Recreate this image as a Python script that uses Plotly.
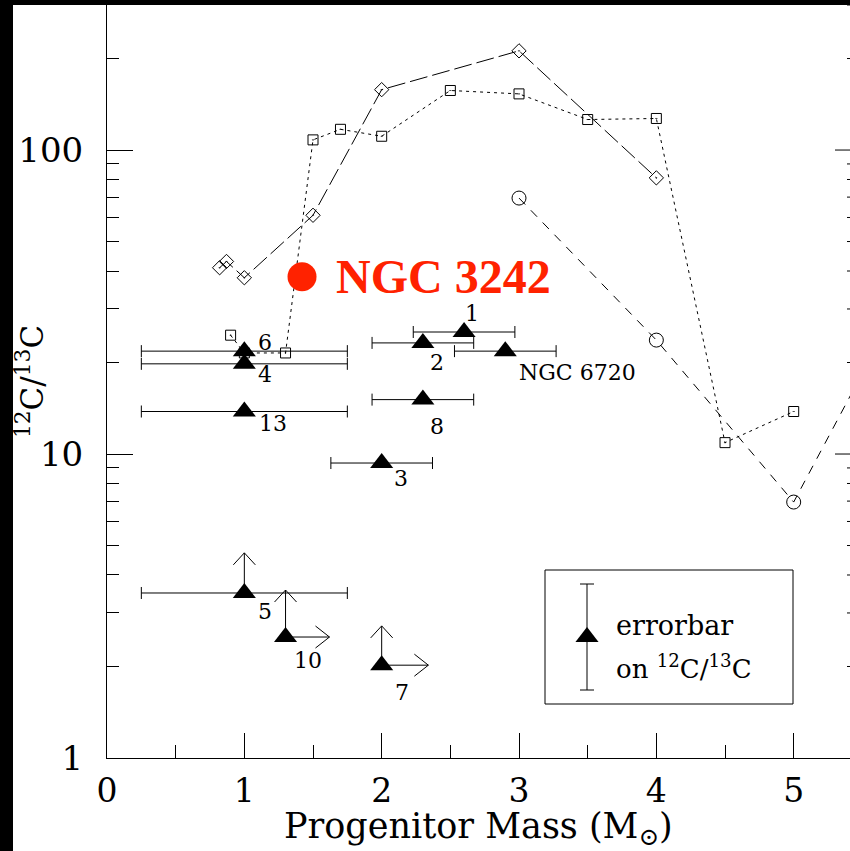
import math
import plotly.graph_objects as go

# ---------------- data ----------------
diamond_mass = [0.82, 0.87, 1.0, 1.5, 2.0, 3.0, 4.0]
diamond_ratio = [41, 43, 38, 61, 158, 212, 81]

square_mass = [0.9, 1.0, 1.3, 1.5, 1.7, 2.0, 2.5, 3.0, 3.5, 4.0, 4.5, 5.0]
square_ratio = [24.6, 21.5, 21.5, 108, 117, 111, 157, 153, 126, 127, 10.9, 13.8]

circle_mass = [3.0, 4.0, 5.0, 6.0]
circle_ratio = [69.5, 23.7, 6.95, 49]

obj_labels = ["6", "4", "13", "1", "2", "NGC 6720", "8", "3", "5", "10", "7"]
obj_mass = [1.0, 1.0, 1.0, 2.6, 2.3, 2.9, 2.3, 2.0, 1.0, 1.3, 2.0]
obj_ratio = [21.8, 19.8, 13.8, 25.2, 23.2, 21.8, 15.1, 9.34, 3.49, 2.5, 2.02]
obj_mass_err = [0.75, 0.75, 0.75, 0.37, 0.37, 0.37, 0.37, 0.37, 0.75, 0, 0]

# lower limits drawn as arrows
ratio_limit_labels = ["5", "10", "7"]
ratio_limit_to = [4.73, 3.57, 2.72]
mass_limit_labels = ["10", "7"]
mass_limit_to = [1.62, 2.34]

ngc3242_mass = [1.42]
ngc3242_ratio = [38.3]

x_tickvals = [0, 1, 2, 3, 4, 5]
y_tickvals = [1, 10, 100]
y_ticktext = ["1", "10", "100"]

# ---------------- layout constants ----------------
W, H = 850, 851
ML, MR, MT, MB = 107, 0, 5, 93
PW, PH = W - ML - MR, H - MT - MB
XMAX = 5.41
YLOG = math.log10(300)
PX_X = PW / XMAX
PX_DEC = PH / YLOG
SERIF = "DejaVu Serif"
BLACK = "black"
RED = "#ff2200"


def px_to_paper_x(px):
    return (px - ML) / PW


def px_to_paper_y(py):
    return 1 - (py - MT) / PH


# label offsets in pixels (xshift, yshift) for the object labels
label_offsets = {
    "6": (21, 9), "4": (21, -11), "13": (29, -12), "1": (8, 19), "2": (14, -20),
    "NGC 6720": (72, -21), "8": (14, -27), "3": (19, -15), "5": (21, -19),
    "10": (22, -23), "7": (20, -27),
}

fig = go.Figure()

# model curves
fig.add_trace(go.Scatter(
    x=diamond_mass, y=diamond_ratio, mode="lines+markers",
    line=dict(color=BLACK, width=1, dash="18px,5px"),
    marker=dict(symbol="diamond-open-dot", size=11, color=BLACK, line=dict(width=1, color=BLACK)),
    showlegend=False))
fig.add_trace(go.Scatter(
    x=square_mass, y=square_ratio, mode="lines+markers",
    line=dict(color=BLACK, width=1, dash="3px,4px"),
    marker=dict(symbol="square-open-dot", size=10, color=BLACK, line=dict(width=1, color=BLACK)),
    showlegend=False))
fig.add_trace(go.Scatter(
    x=circle_mass, y=circle_ratio, mode="lines+markers",
    line=dict(color=BLACK, width=1, dash="9px,8px"),
    marker=dict(symbol="circle-open", size=14, color=BLACK, line=dict(width=1, color=BLACK)),
    showlegend=False))

# error bars (only where there is an error)
eb = [i for i, e in enumerate(obj_mass_err) if e > 0]
fig.add_trace(go.Scatter(
    x=[obj_mass[i] for i in eb], y=[obj_ratio[i] for i in eb], mode="markers",
    marker=dict(size=1, color="rgba(0,0,0,0)"),
    error_x=dict(type="data", array=[obj_mass_err[i] for i in eb], color=BLACK,
                 thickness=1, width=6),
    showlegend=False))

# lower-limit arrows
ax_x, ax_y = [], []
lookup = {lab: (obj_mass[i], obj_ratio[i]) for i, lab in enumerate(obj_labels)}
hw, hl = 11, 12
for lab, top in zip(ratio_limit_labels, ratio_limit_to):
    m, r = lookup[lab]
    lt = math.log10(top)
    yb = 10 ** (lt - hl / PX_DEC)
    ax_x += [m, m, None, m - hw / PX_X, m, m + hw / PX_X, None]
    ax_y += [r, top, None, yb, top, yb, None]
for lab, right in zip(mass_limit_labels, mass_limit_to):
    m, r = lookup[lab]
    lr = math.log10(r)
    xb = right - 14 / PX_X
    ax_x += [m, right, None, xb, right, xb, None]
    ax_y += [r, r, None, 10 ** (lr + hw / PX_DEC), r, 10 ** (lr - hw / PX_DEC), None]
fig.add_trace(go.Scatter(x=ax_x, y=ax_y, mode="lines",
                         line=dict(color=BLACK, width=1), showlegend=False))

# triangles
fig.add_trace(go.Scatter(
    x=obj_mass, y=obj_ratio, mode="markers",
    marker=dict(symbol="triangle-up", size=20, color=BLACK, line=dict(width=0)),
    showlegend=False))

# NGC 3242
fig.add_trace(go.Scatter(
    x=ngc3242_mass, y=ngc3242_ratio, mode="markers",
    marker=dict(symbol="circle", size=29, color=RED, line=dict(width=0)),
    showlegend=False))

# legend key (errorbar sample), positioned from pixels
key_x = (587 - ML) / PX_X
key_y = 10 ** ((MT + PH - 637) / PX_DEC)
key_up = 10 ** ((MT + PH - 584) / PX_DEC) - key_y
key_dn = key_y - 10 ** ((MT + PH - 690) / PX_DEC)
fig.add_trace(go.Scatter(
    x=[key_x], y=[key_y], mode="markers",
    marker=dict(symbol="triangle-up", size=20, color=BLACK, line=dict(width=0)),
    error_y=dict(type="data", symmetric=False, array=[key_up], arrayminus=[key_dn],
                 color=BLACK, thickness=1, width=7),
    showlegend=False))

annotations = []
for lab, m, r in zip(obj_labels, obj_mass, obj_ratio):
    dx, dy = label_offsets[lab]
    annotations.append(dict(x=m, y=math.log10(r), xref="x", yref="y", text=lab,
                            showarrow=False, xshift=dx, yshift=dy,
                            xanchor="center", yanchor="middle",
                            font=dict(family=SERIF, size=22, color=BLACK)))
annotations.append(dict(x=ngc3242_mass[0], y=math.log10(ngc3242_ratio[0]), xref="x", yref="y",
                        text="<b>NGC 3242</b>", showarrow=False, xanchor="left", yanchor="middle",
                        xshift=32, yshift=0,
                        font=dict(family="Liberation Serif", size=48, color=RED)))
annotations.append(dict(x=px_to_paper_x(614), y=px_to_paper_y(625), xref="paper", yref="paper",
                        text="errorbar", showarrow=False, xanchor="left", yanchor="middle",
                        font=dict(family=SERIF, size=27, color=BLACK)))
annotations.append(dict(x=px_to_paper_x(614), y=px_to_paper_y(667), xref="paper", yref="paper",
                        text="on <sup>12</sup>C/<sup>13</sup>C", showarrow=False,
                        xanchor="left", yanchor="middle",
                        font=dict(family=SERIF, size=26, color=BLACK)))
annotations.append(dict(x=px_to_paper_x(478), y=px_to_paper_y(829), xref="paper", yref="paper",
                        text="Progenitor Mass (M<sub>⊙</sub>)", showarrow=False,
                        xanchor="center", yanchor="middle",
                        font=dict(family=SERIF, size=35, color=BLACK)))
annotations.append(dict(x=px_to_paper_x(30), y=px_to_paper_y(382), xref="paper", yref="paper",
                        text="<sup>12</sup>C/<sup>13</sup>C", showarrow=False, textangle=-90,
                        xanchor="center", yanchor="middle",
                        font=dict(family=SERIF, size=31, color=BLACK)))

shapes = []
# black frame bands (top and left)
shapes.append(dict(type="rect", xref="paper", yref="paper", x0=px_to_paper_x(0), x1=px_to_paper_x(W + 5),
                   y0=px_to_paper_y(5), y1=px_to_paper_y(-5), fillcolor=BLACK, line=dict(width=0),
                   layer="above"))
shapes.append(dict(type="rect", xref="paper", yref="paper", x0=px_to_paper_x(-5), x1=px_to_paper_x(13),
                   y0=px_to_paper_y(H + 5), y1=px_to_paper_y(-5), fillcolor=BLACK, line=dict(width=0),
                   layer="above"))
# legend box
shapes.append(dict(type="rect", xref="paper", yref="paper", x0=px_to_paper_x(545), x1=px_to_paper_x(793),
                   y0=px_to_paper_y(704), y1=px_to_paper_y(570), line=dict(color=BLACK, width=1)))
# right-hand axis ticks (axis itself lies just beyond the visible edge)
minor_vals = [m * 10 ** e for e in range(3) for m in range(2, 10) if m * 10 ** e <= 300]
for v in minor_vals:
    yp = math.log10(v) / YLOG
    shapes.append(dict(type="line", xref="paper", yref="paper", x0=px_to_paper_x(847), x1=1,
                       y0=yp, y1=yp, line=dict(color=BLACK, width=1)))
for v in [10, 100]:
    yp = math.log10(v) / YLOG
    shapes.append(dict(type="line", xref="paper", yref="paper", x0=px_to_paper_x(835), x1=1,
                       y0=yp, y1=yp, line=dict(color=BLACK, width=1)))

fig.update_layout(
    width=W, height=H,
    margin=dict(l=ML, r=MR, t=MT, b=MB, pad=0),
    paper_bgcolor="white", plot_bgcolor="white",
    showlegend=False,
    annotations=annotations,
    shapes=shapes,
    xaxis=dict(range=[0, XMAX], showline=True, linecolor=BLACK, linewidth=1, mirror=True,
               ticks="inside", ticklen=25, tickwidth=1, tickcolor=BLACK,
               tickvals=x_tickvals, ticktext=[str(v) for v in x_tickvals],
               minor=dict(dtick=0.5, tick0=0, ticks="inside", ticklen=13, tickcolor=BLACK, tickwidth=1,
                          showgrid=False),
               showgrid=False, zeroline=False, ticklabelstandoff=3,
               tickfont=dict(family=SERIF, size=33, color=BLACK)),
    yaxis=dict(type="log", range=[0, YLOG], showline=True, linecolor=BLACK, linewidth=1,
               ticks="inside", ticklen=26, tickwidth=1, tickcolor=BLACK,
               tickvals=y_tickvals, ticktext=y_ticktext,
               minor=dict(tickvals=minor_vals, ticks="inside", ticklen=12, tickcolor=BLACK,
                          tickwidth=1, showgrid=False),
               showgrid=False, zeroline=False, ticklabelstandoff=16,
               tickfont=dict(family=SERIF, size=34, color=BLACK)),
)

fig.write_html("out.html")
